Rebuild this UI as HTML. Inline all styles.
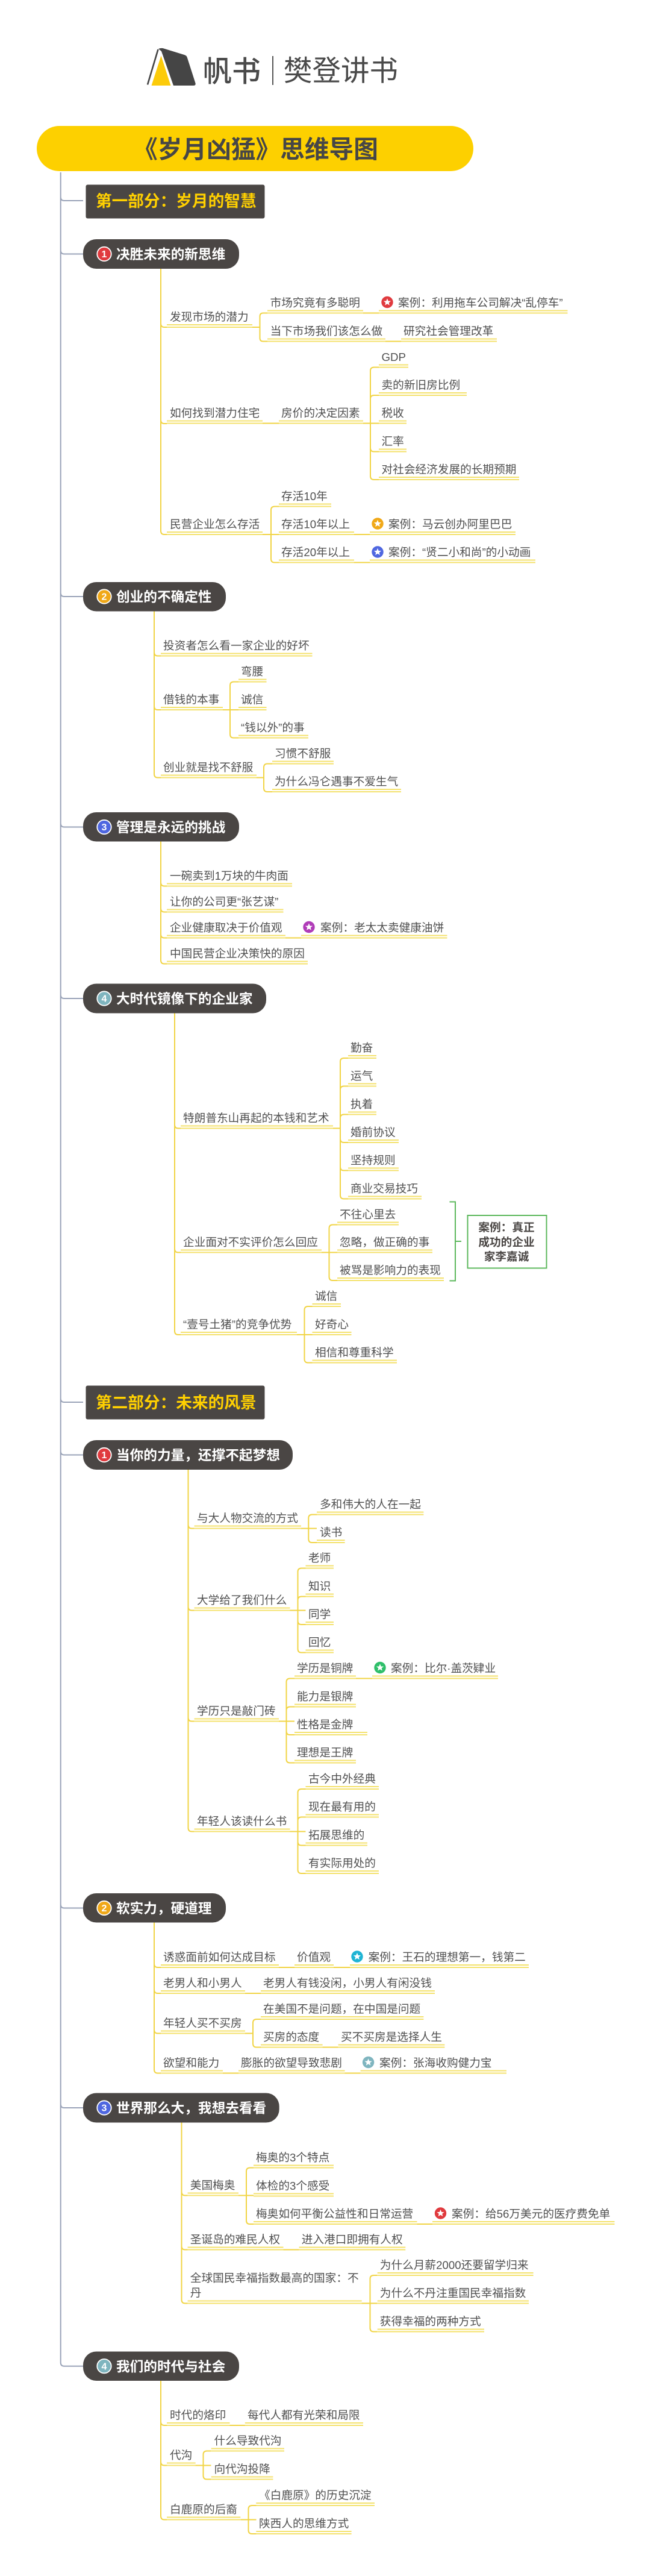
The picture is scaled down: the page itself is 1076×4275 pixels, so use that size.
<!DOCTYPE html>
<html lang="zh-CN">
<head>
<meta charset="utf-8">
<title>《岁月凶猛》思维导图</title>
<style>
html,body{margin:0;padding:0;background:#fff}
svg{display:block}
text{font-family:"Liberation Sans","Noto Sans CJK SC",sans-serif}
.n{font-size:18.67px;fill:#505050}
.t{font-size:22.67px;font-weight:700;fill:#fff}
.p{font-size:26.67px;font-weight:700;fill:#ffd000}
.d{font-size:16px;font-weight:700;fill:#fff;text-anchor:middle}
.c{fill:none;stroke:#f1d445;stroke-width:2}
.u{fill:none;stroke:#f4e26e;stroke-width:2}
.g{fill:none;stroke:#9aa3b8;stroke-width:2}
.b{fill:#4a4644}
.k{font-size:18.67px;font-weight:700;fill:#4a4644;text-anchor:middle}
</style>
</head>
<body>
<svg xmlns="http://www.w3.org/2000/svg" width="1076" height="4275" viewBox="0 0 1076 4275">
<defs>
<polygon id="s" fill="#fff" points="0,-6.2 1.7,-2 6.1,-1.9 2.7,0.9 3.8,5.1 0,2.7 -3.8,5.1 -2.7,0.9 -6.1,-1.9 -1.7,-2"/>
</defs>
<rect width="1076" height="4275" fill="#fff"/>

<!-- logo -->
<path d="M263 81Q268 79 272 80.5L306 91Q310 92 311 96L324.5 138Q325.5 142 321 142L288 142L268 85Z" fill="#454545"/>
<path d="M262.5 82L245 140.5" fill="none" stroke="#454545" stroke-width="2.6"/>
<polygon points="267.5,92.5 251.5,142 283.5,142" fill="#fccb0a"/>
<text x="337" y="135" font-size="48" font-weight="500" fill="#4a4a4a">帆书</text>
<rect x="452" y="93" width="2" height="48" fill="#555"/>
<text x="471" y="134" font-size="47.5" fill="#4a4a4a">樊登讲书</text>

<!-- root -->
<rect x="61" y="209" width="725" height="75" rx="37.5" fill="#fdd000"/>
<text x="221" y="262" font-size="40.7" font-weight="700" fill="#464646" style="font-family:'Noto Sans CJK SC',sans-serif">《岁月凶猛》思维导图</text>

<!-- gray trunk -->
<path class="g" d="M100.7 286V3920.7Q100.7 3926.7 106.7 3926.7H138M100.7 327Q100.7 333 106.7 333H138M100.7 415.5Q100.7 421.5 106.7 421.5H138M100.7 984Q100.7 990 106.7 990H138M100.7 1366.5Q100.7 1372.5 106.7 1372.5H138M100.7 1651Q100.7 1657 106.7 1657H138M100.7 2321Q100.7 2327 106.7 2327H138M100.7 2408.5Q100.7 2414.5 106.7 2414.5H138M100.7 3160.5Q100.7 3166.5 106.7 3166.5H138M100.7 3492Q100.7 3498 106.7 3498H138"/>

<!-- part 1 -->
<rect class="b" x="142.5" y="306.5" width="297" height="56" rx="3"/>
<text class="p" x="159" y="343">第一部分：岁月的智慧</text>

<!-- topic 1.1 -->
<path class="c" d="M267 446V881Q267 887 273 887H277M267 537Q267 543 273 543H277M267 697Q267 703 273 703H277
M419 543H431.5M444 519.5H437Q431.5 519.5 431.5 525V561Q431.5 566.5 437 566.5H444M603 519.5H629M640 566.5H666
M436 702.5H463M603 702.5H629M629 609.5H621Q615 609.5 615 615.5V790Q615 796 621 796H629M629 656H621Q615 656 615 662M615 743.5Q615 749.5 621 749.5H629
M436 887H463M463 840.5H456Q450 840.5 450 846.5V927.5Q450 933.5 456 933.5H463M588 887H614M588 933.5H614"/>
<rect class="b" x="138" y="397" width="259" height="49" rx="22"/>
<circle cx="173" cy="421.5" r="11.7" fill="#e03a3e" stroke="#fff" stroke-width="1.8"/><text class="d" x="173" y="427">1</text>
<text class="t" x="193" y="430">决胜未来的新思维</text>

<text class="n" x="282" y="532.5">发现市场的潜力</text><path class="u" d="M277 539H419M277 543H419"/>
<text class="n" x="448.6" y="509">市场究竟有多聪明</text><path class="u" d="M444 515.5H603M444 519.5H603"/>
<circle cx="643" cy="501.5" r="9.7" fill="#e03a3e"/><use href="#s" x="643" y="501.5"/>
<text class="n" x="661" y="509">案例：利用拖车公司解决“乱停车”</text><path class="u" d="M629 515.5H942.5M629 519.5H942.5"/>
<text class="n" x="448.6" y="556">当下市场我们该怎么做</text><path class="u" d="M444 562.5H640M444 566.5H640"/>
<text class="n" x="670" y="556">研究社会管理改革</text><path class="u" d="M666 562.5H825M666 566.5H825"/>

<text class="n" x="282" y="692">如何找到潜力住宅</text><path class="u" d="M277 698.5H436M277 702.5H436"/>
<text class="n" x="467" y="692">房价的决定因素</text><path class="u" d="M463 698.5H603M463 702.5H603"/>
<text class="n" x="633.5" y="599">GDP</text><path class="u" d="M629 605.5H678M629 609.5H678"/>
<text class="n" x="633.5" y="645.5">卖的新旧房比例</text><path class="u" d="M629 652H775M629 656H775"/>
<text class="n" x="633.5" y="692">税收</text><path class="u" d="M629 698.5H675M629 702.5H675"/>
<text class="n" x="633.5" y="739">汇率</text><path class="u" d="M629 745.5H675M629 749.5H675"/>
<text class="n" x="633.5" y="785.5">对社会经济发展的长期预期</text><path class="u" d="M629 792H862M629 796H862"/>

<text class="n" x="282" y="876.5">民营企业怎么存活</text><path class="u" d="M277 883H436M277 887H436"/>
<text class="n" x="467" y="830">存活10年</text><path class="u" d="M463 836.5H550M463 840.5H550"/>
<text class="n" x="467" y="876.5">存活10年以上</text><path class="u" d="M463 883H588M463 887H588"/>
<circle cx="627" cy="869" r="9.7" fill="#f0a818"/><use href="#s" x="627" y="869"/>
<text class="n" x="645" y="876.5">案例：马云创办阿里巴巴</text><path class="u" d="M614 883H856M614 887H856"/>
<text class="n" x="467" y="923">存活20年以上</text><path class="u" d="M463 929.5H588M463 933.5H588"/>
<circle cx="627" cy="916" r="9.7" fill="#4f67e0"/><use href="#s" x="627" y="916"/>
<text class="n" x="645" y="923">案例：“贤二小和尚”的小动画</text><path class="u" d="M614 929.5H889M614 933.5H889"/>

<!-- topic 1.2 -->
<path class="c" d="M256 1014V1284.5Q256 1290.5 262 1290.5H267M256 1082.5Q256 1088.5 262 1088.5H267M256 1172Q256 1178 262 1178H267
M370 1178H396M396 1131.5H388Q382 1131.5 382 1137.5V1218.5Q382 1224.5 388 1224.5H396
M426 1290.5H438M452 1267.5H444Q438 1267.5 438 1273.5V1308Q438 1314 444 1314H452"/>
<rect class="b" x="138" y="966" width="237" height="48.5" rx="22"/>
<circle cx="173" cy="990" r="11.7" fill="#f0a818" stroke="#fff" stroke-width="1.8"/><text class="d" x="173" y="995.5">2</text>
<text class="t" x="193" y="998.5">创业的不确定性</text>

<text class="n" x="271" y="1078">投资者怎么看一家企业的好坏</text><path class="u" d="M267 1084.5H518.5M267 1088.5H518.5"/>
<text class="n" x="271" y="1167.5">借钱的本事</text><path class="u" d="M267 1174H370M267 1178H370"/>
<text class="n" x="400" y="1121">弯腰</text><path class="u" d="M396 1127.5H442.5M396 1131.5H442.5"/>
<text class="n" x="400" y="1167.5">诚信</text><path class="u" d="M396 1174H442.5M396 1178H442.5"/>
<text class="n" x="400" y="1214">“钱以外”的事</text><path class="u" d="M396 1220.5H512M396 1224.5H512"/>
<text class="n" x="271" y="1280">创业就是找不舒服</text><path class="u" d="M267 1286.5H426M267 1290.5H426"/>
<text class="n" x="456" y="1257">习惯不舒服</text><path class="u" d="M452 1263.5H554M452 1267.5H554"/>
<text class="n" x="456" y="1303.5">为什么冯仑遇事不爱生气</text><path class="u" d="M452 1310H666M452 1314H666"/>

<!-- topic 1.3 -->
<path class="c" d="M267 1396.5V1593.5Q267 1599.5 273 1599.5H277M267 1464.5Q267 1470.5 273 1470.5H277M267 1507.5Q267 1513.5 273 1513.5H277M267 1550.5Q267 1556.5 273 1556.5H277M474 1556.5H500"/>
<rect class="b" x="138" y="1348" width="259" height="48.5" rx="22"/>
<circle cx="173" cy="1372.5" r="11.7" fill="#4f67e0" stroke="#fff" stroke-width="1.8"/><text class="d" x="173" y="1378">3</text>
<text class="t" x="193" y="1381">管理是永远的挑战</text>

<text class="n" x="282" y="1460">一碗卖到1万块的牛肉面</text><path class="u" d="M277 1466.5H485M277 1470.5H485"/>
<text class="n" x="282" y="1503">让你的公司更“张艺谋”</text><path class="u" d="M277 1509.5H470.5M277 1513.5H470.5"/>
<text class="n" x="282" y="1546">企业健康取决于价值观</text><path class="u" d="M277 1552.5H474M277 1556.5H474"/>
<circle cx="513" cy="1538.5" r="9.7" fill="#b03cb8"/><use href="#s" x="513" y="1538.5"/>
<text class="n" x="532" y="1546">案例：老太太卖健康油饼</text><path class="u" d="M500 1552.5H742.5M500 1556.5H742.5"/>
<text class="n" x="282" y="1589">中国民营企业决策快的原因</text><path class="u" d="M277 1595.5H511M277 1599.5H511"/>

<!-- topic 1.4 -->
<path class="c" d="M290 1681.5V2209Q290 2215 296 2215H300M290 1866.5Q290 1872.5 296 1872.5H300M290 2072.5Q290 2078.5 296 2078.5H300
M553 1872.5H565M578 1756H571Q565 1756 565 1762V1983.5Q565 1989.5 571 1989.5H578M578 1802.5H571Q565 1802.5 565 1808.5M578 1849.5H571Q565 1849.5 565 1855.5M565 1890Q565 1896 571 1896H578M565 1936.5Q565 1942.5 571 1942.5H578
M534 2078.5H560M560 2032.5H552.5Q546.5 2032.5 546.5 2038.5V2119Q546.5 2125 552.5 2125H560
M493 2215H518.5M518.5 2168H511.5Q505.5 2168 505.5 2174V2255.5Q505.5 2261.5 511.5 2261.5H518.5"/>
<rect class="b" x="138" y="1632.5" width="304" height="49" rx="22"/>
<circle cx="173" cy="1657" r="11.7" fill="#7fb5bf" stroke="#fff" stroke-width="1.8"/><text class="d" x="173" y="1662.5">4</text>
<text class="t" x="193" y="1665.5">大时代镜像下的企业家</text>

<text class="n" x="304" y="1862">特朗普东山再起的本钱和艺术</text><path class="u" d="M300 1868.5H553M300 1872.5H553"/>
<text class="n" x="582" y="1745.5">勤奋</text><path class="u" d="M578 1752H625M578 1756H625"/>
<text class="n" x="582" y="1792">运气</text><path class="u" d="M578 1798.5H625M578 1802.5H625"/>
<text class="n" x="582" y="1839">执着</text><path class="u" d="M578 1845.5H625M578 1849.5H625"/>
<text class="n" x="582" y="1885.5">婚前协议</text><path class="u" d="M578 1892H662M578 1896H662"/>
<text class="n" x="582" y="1932">坚持规则</text><path class="u" d="M578 1938.5H662M578 1942.5H662"/>
<text class="n" x="582" y="1979">商业交易技巧</text><path class="u" d="M578 1985.5H700M578 1989.5H700"/>
<text class="n" x="304" y="2068">企业面对不实评价怎么回应</text><path class="u" d="M300 2074.5H534M300 2078.5H534"/>
<text class="n" x="564" y="2022">不往心里去</text><path class="u" d="M560 2028.5H662M560 2032.5H662"/>
<text class="n" x="564" y="2068">忽略，做正确的事</text><path class="u" d="M560 2074.5H718M560 2078.5H718"/>
<text class="n" x="564" y="2114.5">被骂是影响力的表现</text><path class="u" d="M560 2121H737M560 2125H737"/>
<path d="M746.5 1994.5H756V2125.5H746.5M756 2060H766" fill="none" stroke="#5cb85c" stroke-width="2"/>
<rect x="776.5" y="2017" width="131" height="87.5" fill="#fff" stroke="#5cb85c" stroke-width="2"/>
<text class="k" x="841" y="2043.5">案例：真正</text>
<text class="k" x="841" y="2068">成功的企业</text>
<text class="k" x="841" y="2092">家李嘉诚</text>
<text class="n" x="304" y="2204.5">“壹号土猪”的竞争优势</text><path class="u" d="M300 2211H493M300 2215H493"/>
<text class="n" x="523" y="2157.5">诚信</text><path class="u" d="M518.5 2164H566M518.5 2168H566"/>
<text class="n" x="523" y="2204.5">好奇心</text><path class="u" d="M518.5 2211H583.5M518.5 2215H583.5"/>
<text class="n" x="523" y="2251">相信和尊重科学</text><path class="u" d="M518.5 2257.5H659M518.5 2261.5H659"/>

<!-- part 2 -->
<rect class="b" x="142.5" y="2299.5" width="297" height="56" rx="3"/>
<text class="p" x="159" y="2337">第二部分：未来的风景</text>

<!-- topic 2.1 -->
<path class="c" d="M312.5 2439V3033.5Q312.5 3039.5 318.5 3039.5H322.6M312.5 2530.5Q312.5 2536.5 318.5 2536.5H322.6M312.5 2666.5Q312.5 2672.5 318.5 2672.5H322.6M312.5 2850.5Q312.5 2856.5 318.5 2856.5H322.6
M500 2536.5H526M526 2513.5H518.3Q512.3 2513.5 512.3 2519.5V2554Q512.3 2560 518.3 2560H526
M481.5 2672.5H507.5M507.5 2602.5H500.5Q494.5 2602.5 494.5 2608.5V2736.5Q494.5 2742.5 500.5 2742.5H507.5M507.5 2649.5H500.5Q494.5 2649.5 494.5 2655.5M494.5 2690Q494.5 2696 500.5 2696H507.5
M463 2856.5H489M591 2785.5H618M489 2785.5H481.5Q475.5 2785.5 475.5 2791.5V2919.5Q475.5 2925.5 481.5 2925.5H489M489 2832.5H481.5Q475.5 2832.5 475.5 2838.5M475.5 2873Q475.5 2879 481.5 2879H489
M481.5 3039.5H507.5M507.5 2969H500.5Q494.5 2969 494.5 2975V3103Q494.5 3109 500.5 3109H507.5M507.5 3015.5H500.5Q494.5 3015.5 494.5 3021.5M494.5 3056.5Q494.5 3062.5 500.5 3062.5H507.5"/>
<rect class="b" x="138" y="2390" width="348" height="49" rx="22"/>
<circle cx="173" cy="2414.5" r="11.7" fill="#e03a3e" stroke="#fff" stroke-width="1.8"/><text class="d" x="173" y="2420">1</text>
<text class="t" x="193" y="2423">当你的力量，还撑不起梦想</text>

<text class="n" x="327" y="2526">与大人物交流的方式</text><path class="u" d="M322.6 2532.5H500M322.6 2536.5H500"/>
<text class="n" x="531" y="2503">多和伟大的人在一起</text><path class="u" d="M526 2509.5H703.4M526 2513.5H703.4"/>
<text class="n" x="531" y="2549.5">读书</text><path class="u" d="M526 2556H572.6M526 2560H572.6"/>
<text class="n" x="327" y="2662">大学给了我们什么</text><path class="u" d="M322.6 2668.5H481.5M322.6 2672.5H481.5"/>
<text class="n" x="512" y="2592">老师</text><path class="u" d="M507.5 2598.5H554M507.5 2602.5H554"/>
<text class="n" x="512" y="2639">知识</text><path class="u" d="M507.5 2645.5H554M507.5 2649.5H554"/>
<text class="n" x="512" y="2685.5">同学</text><path class="u" d="M507.5 2692H554M507.5 2696H554"/>
<text class="n" x="512" y="2732">回忆</text><path class="u" d="M507.5 2738.5H554M507.5 2742.5H554"/>
<text class="n" x="327" y="2846">学历只是敲门砖</text><path class="u" d="M322.6 2852.5H463M322.6 2856.5H463"/>
<text class="n" x="493" y="2775">学历是铜牌</text><path class="u" d="M489 2781.5H591M489 2785.5H591"/>
<circle cx="631" cy="2767.5" r="9.7" fill="#2fbf6a"/><use href="#s" x="631" y="2767.5"/>
<text class="n" x="649" y="2775">案例：比尔·盖茨肄业</text><path class="u" d="M618 2781.5H827M618 2785.5H827"/>
<text class="n" x="493" y="2822">能力是银牌</text><path class="u" d="M489 2828.5H591M489 2832.5H591"/>
<text class="n" x="493" y="2868.5">性格是金牌</text><path class="u" d="M489 2875H610M489 2879H610"/>
<text class="n" x="493" y="2915">理想是王牌</text><path class="u" d="M489 2921.5H591M489 2925.5H591"/>
<text class="n" x="327" y="3029">年轻人该读什么书</text><path class="u" d="M322.6 3035.5H481.5M322.6 3039.5H481.5"/>
<text class="n" x="512" y="2958.5">古今中外经典</text><path class="u" d="M507.5 2965H629M507.5 2969H629"/>
<text class="n" x="512" y="3005">现在最有用的</text><path class="u" d="M507.5 3011.5H629M507.5 3015.5H629"/>
<text class="n" x="512" y="3052">拓展思维的</text><path class="u" d="M507.5 3058.5H610M507.5 3062.5H610"/>
<text class="n" x="512" y="3098.5">有实际用处的</text><path class="u" d="M507.5 3105H629M507.5 3109H629"/>

<!-- topic 2.2 -->
<path class="c" d="M256 3190.5V3434.5Q256 3440.5 262 3440.5H267M256 3259Q256 3265 262 3265H267M256 3302Q256 3308 262 3308H267M256 3368.5Q256 3374.5 262 3374.5H267
M463 3265H489M554 3265H581M407 3308H433M407 3374.5H420M433 3351H426Q420 3351 420 3357V3391.5Q420 3397.5 426 3397.5H433M535.5 3397.5H561.5M370 3440.5H396M572.5 3440.5H598.5"/>
<rect class="b" x="138" y="3142" width="237" height="48.5" rx="22"/>
<circle cx="173" cy="3166.5" r="11.7" fill="#f0a818" stroke="#fff" stroke-width="1.8"/><text class="d" x="173" y="3172">2</text>
<text class="t" x="193" y="3175">软实力，硬道理</text>

<text class="n" x="271" y="3254.5">诱惑面前如何达成目标</text><path class="u" d="M267 3261H463M267 3265H463"/>
<text class="n" x="493" y="3254.5">价值观</text><path class="u" d="M489 3261H554M489 3265H554"/>
<circle cx="593" cy="3247" r="9.7" fill="#1fb4d4"/><use href="#s" x="593" y="3247"/>
<text class="n" x="611.6" y="3254.5">案例：王石的理想第一，钱第二</text><path class="u" d="M581 3261H878M581 3265H878"/>
<text class="n" x="271" y="3297.5">老男人和小男人</text><path class="u" d="M267 3304H407M267 3308H407"/>
<text class="n" x="437" y="3297.5">老男人有钱没闲，小男人有闲没钱</text><path class="u" d="M433 3304H722M433 3308H722"/>
<text class="n" x="271" y="3364">年轻人买不买房</text><path class="u" d="M267 3370.5H407M267 3374.5H407"/>
<text class="n" x="437" y="3340.5">在美国不是问题，在中国是问题</text><path class="u" d="M433 3347H703.4M433 3351H703.4"/>
<text class="n" x="437" y="3387">买房的态度</text><path class="u" d="M433 3393.5H535.6M433 3397.5H535.6"/>
<text class="n" x="566" y="3387">买不买房是选择人生</text><path class="u" d="M561.6 3393.5H738.4M561.6 3397.5H738.4"/>
<text class="n" x="271" y="3430">欲望和能力</text><path class="u" d="M267 3436.5H370M267 3440.5H370"/>
<text class="n" x="400" y="3430">膨胀的欲望导致悲剧</text><path class="u" d="M396 3436.5H572.6M396 3440.5H572.6"/>
<circle cx="611.6" cy="3422.5" r="9.7" fill="#7fb5bf"/><use href="#s" x="611.6" y="3422.5"/>
<text class="n" x="630" y="3430">案例：张海收购健力宝</text><path class="u" d="M598.6 3436.5H841M598.6 3440.5H841"/>

<!-- topic 2.3 -->
<path class="c" d="M301.5 3522V3816.5Q301.5 3822.5 307.5 3822.5H311.6M301.5 3637.5Q301.5 3643.5 307.5 3643.5H311.6M301.5 3727.5Q301.5 3733.5 307.5 3733.5H311.6
M396 3643.5H421M421 3597.5H415Q409 3597.5 409 3603.5V3685Q409 3691 415 3691H421M692.5 3691H718M470.5 3733.5H496.5
M600.5 3822.5H626.5M626.5 3776H620.5Q614.5 3776 614.5 3782V3863.5Q614.5 3869.5 620.5 3869.5H626.5"/>
<rect class="b" x="138" y="3473.5" width="325.7" height="49" rx="22"/>
<circle cx="173" cy="3498" r="11.7" fill="#4f67e0" stroke="#fff" stroke-width="1.8"/><text class="d" x="173" y="3503.5">3</text>
<text class="t" x="193" y="3506.5">世界那么大，我想去看看</text>

<text class="n" x="315.8" y="3633">美国梅奥</text><path class="u" d="M311.6 3639.5H396M311.6 3643.5H396"/>
<text class="n" x="425" y="3587">梅奥的3个特点</text><path class="u" d="M421 3593.5H554M421 3597.5H554"/>
<text class="n" x="425" y="3634">体检的3个感受</text><path class="u" d="M421 3640.5H554M421 3644.5H554"/>
<text class="n" x="425" y="3680.5">梅奥如何平衡公益性和日常运营</text><path class="u" d="M421 3687H692.5M421 3691H692.5"/>
<circle cx="731.5" cy="3673" r="9.7" fill="#e03a3e"/><use href="#s" x="731.5" y="3673"/>
<text class="n" x="750" y="3680.5">案例：给56万美元的医疗费免单</text><path class="u" d="M718 3687H1020.5M718 3691H1020.5"/>
<text class="n" x="315.8" y="3723">圣诞岛的难民人权</text><path class="u" d="M311.6 3729.5H470.5M311.6 3733.5H470.5"/>
<text class="n" x="500.7" y="3723">进入港口即拥有人权</text><path class="u" d="M496.6 3729.5H673.3M496.6 3733.5H673.3"/>
<text class="n" x="315.8" y="3787">全球国民幸福指数最高的国家：不</text>
<text class="n" x="315.8" y="3811.5">丹</text><path class="u" d="M311.6 3818.5H600.7M311.6 3822.5H600.7"/>
<text class="n" x="630.8" y="3765.5">为什么月薪2000还要留学归来</text><path class="u" d="M626.7 3772H885.6M626.7 3776H885.6"/>
<text class="n" x="630.8" y="3812">为什么不丹注重国民幸福指数</text><path class="u" d="M626.7 3818.5H878M626.7 3822.5H878"/>
<text class="n" x="630.8" y="3859">获得幸福的两种方式</text><path class="u" d="M626.7 3865.5H804M626.7 3869.5H804"/>

<!-- topic 2.4 -->
<path class="c" d="M267 3951V4175.5Q267 4181.5 273 4181.5H277M267 4019Q267 4025 273 4025H277M267 4085.5Q267 4091.5 273 4091.5H277
M381.5 4025H407M324.5 4091.5H350.5M350.5 4067.5H343.5Q337.5 4067.5 337.5 4073.5V4108.5Q337.5 4114.5 343.5 4114.5H350.5
M399.5 4181.5H425.5M425.5 4158H418.5Q412.5 4158 412.5 4164V4199Q412.5 4205 418.5 4205H425.5"/>
<rect class="b" x="138" y="3902.5" width="259" height="48.5" rx="22"/>
<circle cx="173" cy="3926.7" r="11.7" fill="#7fb5bf" stroke="#fff" stroke-width="1.8"/><text class="d" x="173" y="3932.5">4</text>
<text class="t" x="193" y="3935.5">我们的时代与社会</text>

<text class="n" x="282" y="4014.5">时代的烙印</text><path class="u" d="M277 4021H381.5M277 4025H381.5"/>
<text class="n" x="411" y="4014.5">每代人都有光荣和局限</text><path class="u" d="M406.8 4021H603M406.8 4025H603"/>
<text class="n" x="282" y="4081">代沟</text><path class="u" d="M277 4087.5H324.7M277 4091.5H324.7"/>
<text class="n" x="355.5" y="4057">什么导致代沟</text><path class="u" d="M350.7 4063.5H472M350.7 4067.5H472"/>
<text class="n" x="355.5" y="4104">向代沟投降</text><path class="u" d="M350.7 4110.5H453.4M350.7 4114.5H453.4"/>
<text class="n" x="282" y="4171">白鹿原的后裔</text><path class="u" d="M277 4177.5H399.3M277 4181.5H399.3"/>
<text class="n" x="430" y="4147.5">《白鹿原》的历史沉淀</text><path class="u" d="M425.3 4154H622M425.3 4158H622"/>
<text class="n" x="430" y="4194.5">陕西人的思维方式</text><path class="u" d="M425.3 4201H583.6M425.3 4205H583.6"/>
</svg>
</body>
</html>
